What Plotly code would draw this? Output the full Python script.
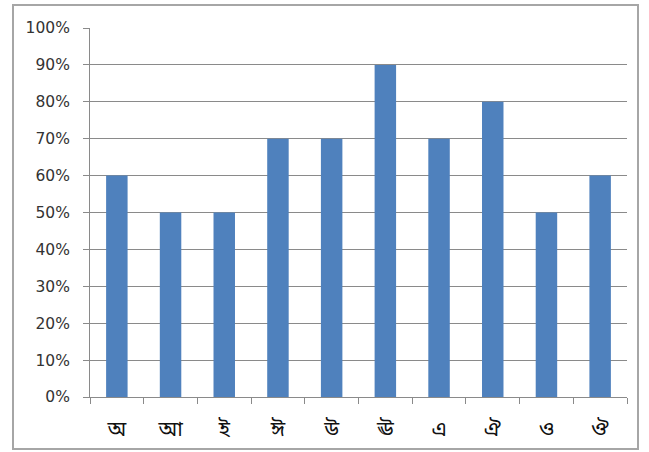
import plotly.graph_objects as go

categories = ["অ", "আ", "ই", "ঈ", "উ", "ঊ", "এ", "ঐ", "ও", "ঔ"]
values = [0.60, 0.50, 0.50, 0.70, 0.70, 0.90, 0.70, 0.80, 0.50, 0.60]
y_ticks = [i / 10 for i in range(11)]
y_labels = [f"{i * 10}%" for i in range(11)]

W, H = 649, 452
L, R, T, B = 90, 22, 28, 55

fig = go.Figure(go.Bar(x=categories, y=values, marker=dict(color="#4F81BD", line=dict(width=0)), width=0.4))

fig.update_layout(
    width=W, height=H,
    margin=dict(l=L, r=R, t=T, b=B),
    paper_bgcolor="white", plot_bgcolor="white",
    showlegend=False,
    bargap=0.6,
    font=dict(family="DejaVu Sans, Noto Sans Bengali, sans-serif", size=15, color="#333333"),
)
fig.update_yaxes(
    range=[0, 1], tickvals=y_ticks, ticktext=y_labels,
    showgrid=True, gridcolor="#8a8a8a", gridwidth=1,
    showline=True, linecolor="#8a8a8a", linewidth=1,
    ticks="outside", ticklen=6, tickcolor="#8a8a8a",
    ticklabelstandoff=10, tickfont=dict(size=15.5, color="#333333"),
    zeroline=False, fixedrange=True,
)
fig.update_xaxes(
    showgrid=False, showline=True, linecolor="#8a8a8a", linewidth=1,
    ticks="outside", ticklen=6, tickcolor="#8a8a8a", tickson="boundaries",
    ticklabelstandoff=13, tickfont=dict(size=21, color="#111111"),
)
# outer chart border
pw, ph = W - L - R, H - T - B
fig.add_shape(
    type="rect", xref="paper", yref="paper",
    x0=(13 - L) / pw, x1=(638 - L) / pw,
    y0=1 - (449 - T) / ph, y1=1 - (5 - T) / ph,
    line=dict(color="#a6a6a6", width=2), fillcolor="rgba(0,0,0,0)", layer="below",
)
fig.write_html("out.html")
